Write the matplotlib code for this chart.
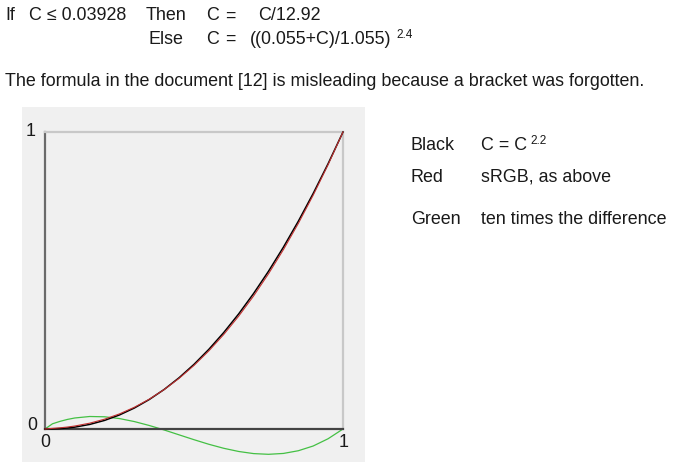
import matplotlib
matplotlib.use("Agg")
import matplotlib.pyplot as plt
from matplotlib.patches import Rectangle

# data
c_values = [0.0, 0.025, 0.05, 0.075, 0.10, 0.15, 0.20, 0.25, 0.30, 0.35, 0.40, 0.45, 0.50,
            0.55, 0.60, 0.65, 0.70, 0.75, 0.80, 0.85, 0.90, 0.95, 1.0]
black_gamma = [0.0, 0.0003, 0.00137, 0.00335, 0.00631, 0.01540, 0.02899, 0.04737, 0.07074,
               0.09930, 0.13321, 0.17261, 0.21764, 0.26841, 0.32504, 0.38762, 0.45627,
               0.53105, 0.61206, 0.69940, 0.79311, 0.89329, 1.0]
red_srgb = [0.0, 0.00205, 0.00394, 0.00657, 0.01002, 0.01961, 0.03310, 0.05088, 0.07324,
            0.10048, 0.13288, 0.17064, 0.21404, 0.26327, 0.31854, 0.38005, 0.44799,
            0.52253, 0.60383, 0.69207, 0.78740, 0.89002, 1.0]
green_diff = [0.0, 0.0175, 0.0256, 0.0322, 0.0371, 0.0421, 0.0411, 0.0351, 0.0250, 0.0118,
              -0.0033, -0.0197, -0.0360, -0.0515, -0.0650, -0.0757, -0.0828, -0.0852,
              -0.0823, -0.0732, -0.0572, -0.0328, 0.0]

W, H = 688, 473
plt.rcParams['font.family'] = ['Liberation Sans', 'DejaVu Sans']
fig = plt.figure(figsize=(W / 100, H / 100), dpi=100)

def fx(x):
    return x / W

def fy(y):
    return 1 - y / H

FS = 12.9
SUP = 8.5
TXT = '#1a1a1a'

def t(x, y, s, size=FS, **kw):
    fig.text(fx(x), fy(y), s, fontsize=size, va='center', color=TXT, **kw)

# header text
t(5, 16, "If")
t(29, 16, "C \u2264 0.03928")
t(146, 16, "Then")
t(206, 16, "C")
t(225, 16, "=")
t(258, 16, "C/12.92")
t(148, 39, "Else")
t(206, 39, "C")
t(225, 39, "=")
t(250, 39, "((0.055+C)/1.055)")
t(396, 35, "2.4", size=SUP)
t(5, 81, "The formula in the document [12] is misleading because a bracket was forgotten.")

# legend text
t(411, 145, "Black")
t(481, 145, "C = C")
t(530, 141, "2.2", size=SUP)
t(411, 177, "Red")
t(481, 177, "sRGB, as above")
t(411, 220, "Green")
t(481, 220, "ten times the difference")

# gray panel
fig.add_artist(Rectangle((fx(22), fy(462)), fx(365) - fx(22), fy(107) - fy(462),
                         transform=fig.transFigure, facecolor='#f0f0f0',
                         edgecolor='none', zorder=-10))

ax_l, ax_r, ax_t, ax_b = 45, 343, 132, 429
ax = fig.add_axes([fx(ax_l), fy(ax_b), fx(ax_r) - fx(ax_l), fy(ax_t) - fy(ax_b)])
ax.set_zorder(2)
ax.set_facecolor('none')
ax.set_xlim(0, 1)
ax.set_ylim(0, 1)
ax.set_xticks([])
ax.set_yticks([])
for s in ['top', 'right']:
    ax.spines[s].set_color('#c8c8c8')
    ax.spines[s].set_linewidth(1.6)
ax.spines['left'].set_color('#6a6a6a')
ax.spines['left'].set_linewidth(1.6)
ax.spines['bottom'].set_color('#444444')
ax.spines['bottom'].set_linewidth(1.6)

ax.plot(c_values, black_gamma, color='black', lw=1.1, clip_on=False, zorder=3)
ax.plot(c_values, red_srgb, color='#c03030', lw=0.8, clip_on=False, zorder=4)
ax.plot(c_values, green_diff, color='#44c044', lw=0.9, clip_on=False, zorder=2)

t(31, 131, "1", ha='center')
t(32, 425, "0", ha='center')
t(45, 442, "0", ha='center')
t(344, 442, "1", ha='center')

fig.savefig("out.png", dpi=100)
